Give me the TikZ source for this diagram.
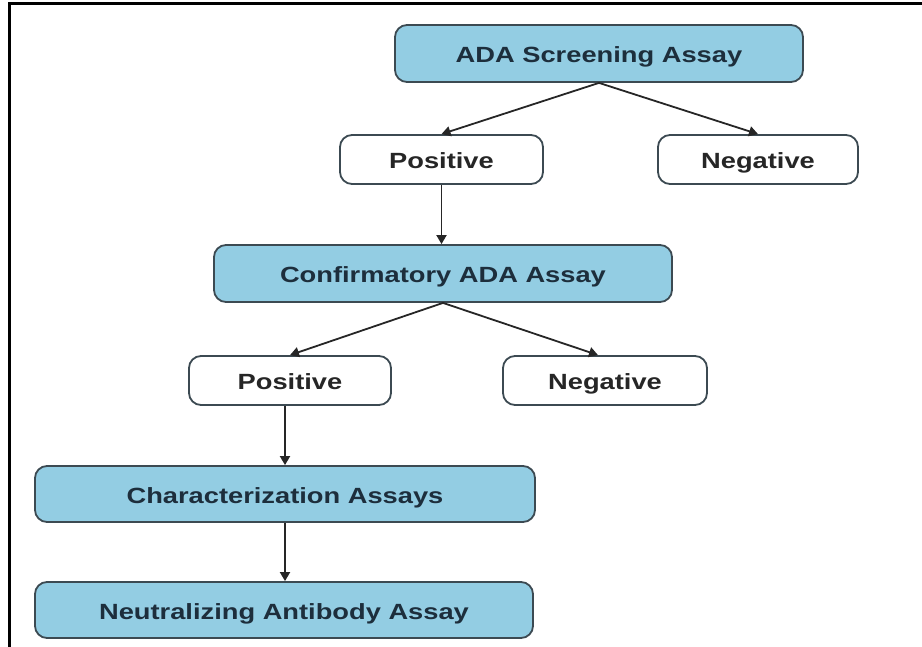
\documentclass[tikz,border=0pt]{standalone}
\usepackage{fontspec}
\setmainfont[FakeStretch=1.24]{Liberation Sans}
\usetikzlibrary{arrows.meta,calc}
\definecolor{boxblue}{HTML}{93CDE3}
\definecolor{boxedge}{HTML}{3C4A52}
\definecolor{bluetext}{HTML}{1D2E3C}
\definecolor{greytext}{HTML}{262626}
\begin{document}
\begin{tikzpicture}[x=1pt,y=-1pt,
  base/.style={draw=boxedge,line width=1.8pt,rounded corners=12pt,
    inner sep=0pt,text height=20pt,text depth=2pt,
    font=\fontsize{22}{24}\selectfont\bfseries},
  bluebox/.style={base,fill=boxblue,text=bluetext},
  whitebox/.style={base,fill=white,text=greytext},
  arr/.style={line width=1.8pt,draw=black!85,-{Triangle[length=9pt,width=10pt]}}]
\useasboundingbox (0,0) rectangle (922,647);
\draw[line width=3pt] (9,647) -- (9,4) -- (922,4);
\node[bluebox,minimum width=408pt,minimum height=57pt] (ada) at (599,53.5) {ADA Screening Assay};
\node[whitebox,minimum width=203pt,minimum height=49pt] (pos1) at (441.5,159.5) {Positive};
\node[whitebox,minimum width=200pt,minimum height=49pt] (neg1) at (758,159.5) {Negative};
\node[bluebox,minimum width=458pt,minimum height=57pt] (conf) at (443,273.5) {Confirmatory ADA Assay};
\node[whitebox,minimum width=202pt,minimum height=49pt] (pos2) at (290,380.5) {Positive};
\node[whitebox,minimum width=204pt,minimum height=49pt] (neg2) at (605,380.5) {Negative};
\node[bluebox,minimum width=500pt,minimum height=56pt] (char) at (285,494) {Characterization Assays};
\node[bluebox,minimum width=498pt,minimum height=56pt] (neut) at (284,610) {Neutralizing Antibody Assay};
\draw[arr] (ada.south) -- (pos1.north);
\draw[arr] (ada.south) -- (neg1.north);
\draw[arr] (pos1.south) -- (pos1.south |- conf.north);
\draw[arr] (conf.south) -- (pos2.north);
\draw[arr] (conf.south) -- ($(neg2.north)+(-7,0)$);
\draw[arr] (pos2.south -| char.north) -- (char.north);
\draw[arr] (char.south) -- (char.south |- neut.north);
\end{tikzpicture}
\end{document}
